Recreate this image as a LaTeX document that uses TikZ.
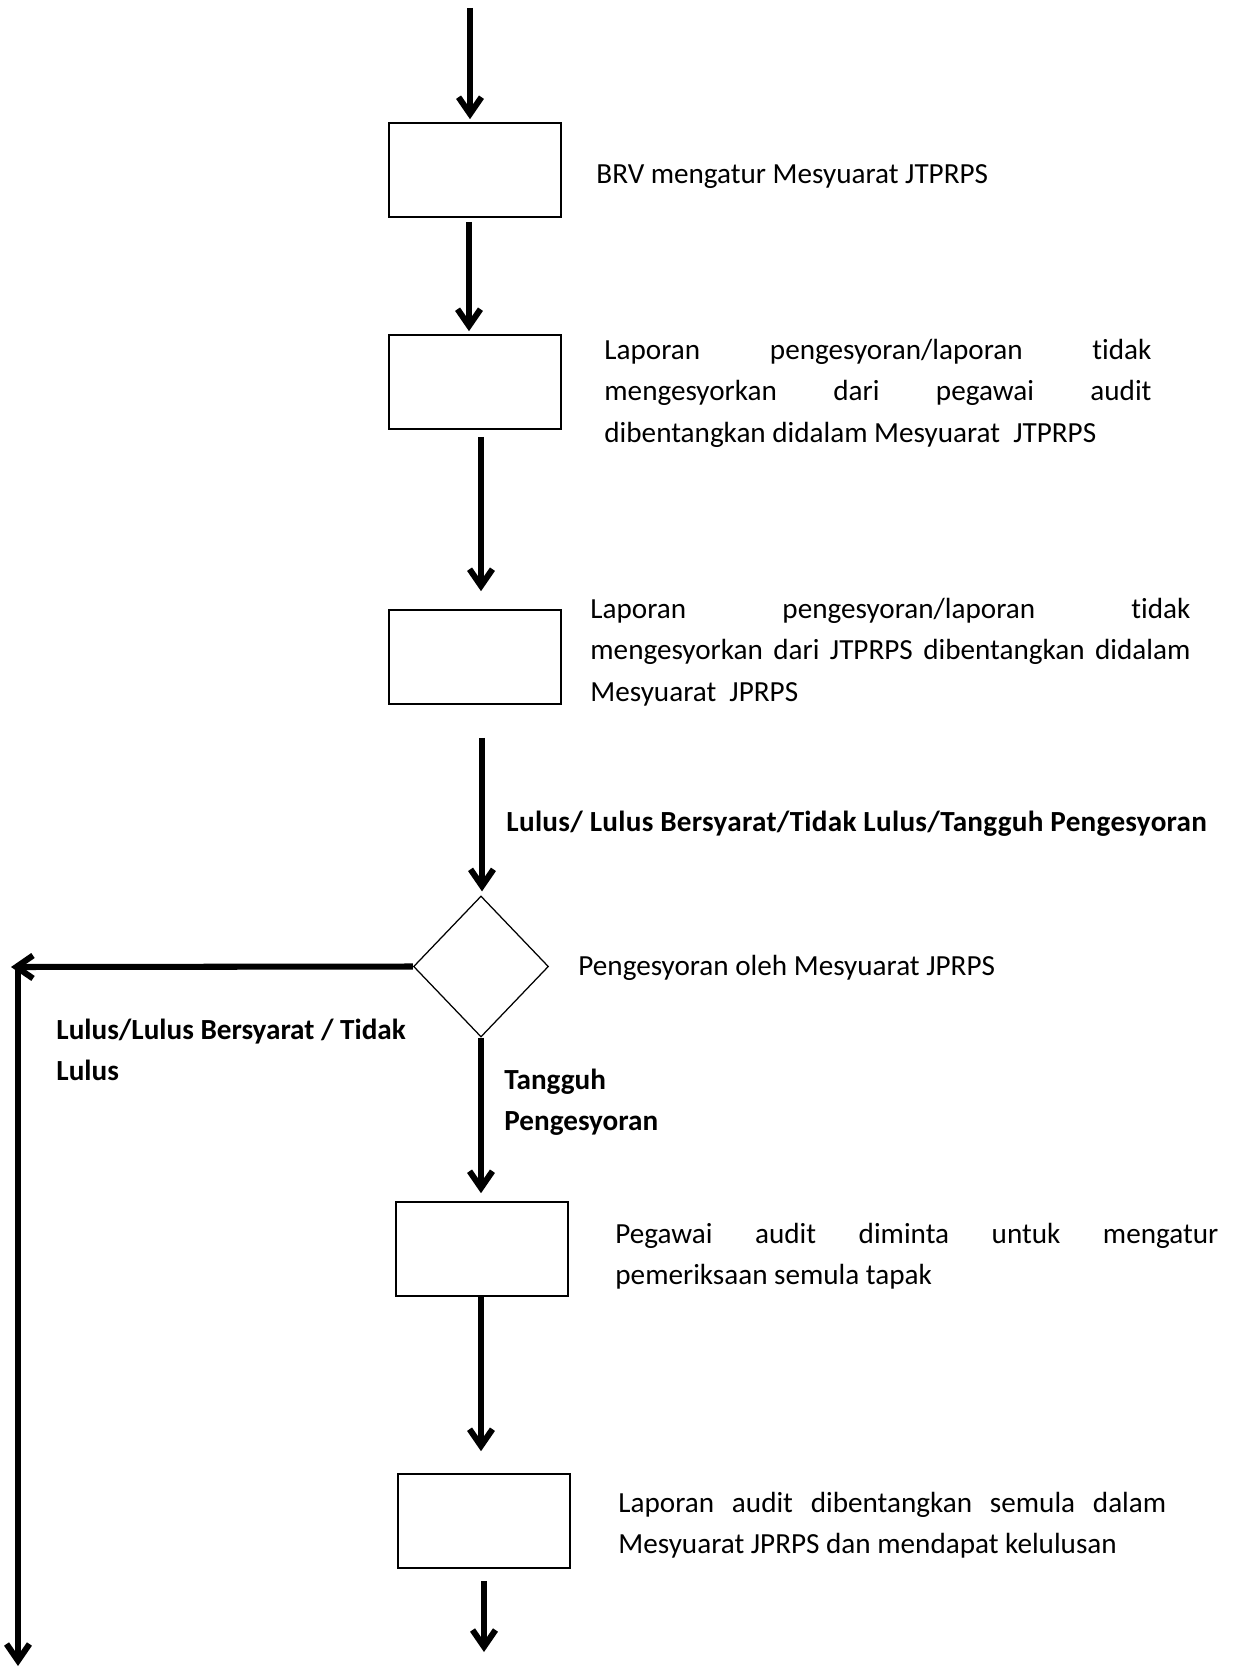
\documentclass[tikz,border=0pt]{standalone}
\usepackage{fontspec}
\setmainfont{Carlito}[Ligatures=NoCommon]
\usetikzlibrary{shapes.geometric,arrows.meta,calc}
\begin{document}
\begin{tikzpicture}[x=0.48pt,y=-0.48pt,
  every node/.style={font=\fontsize{14}{19.9}\selectfont},
  arr/.style={line width=2.9pt,-{Straight Barb[length=8pt,width=11pt]}},
  box/.style={draw,line width=0.8pt,minimum width=82.6pt,minimum height=45.1pt,inner sep=0pt},
  dec/.style={draw,diamond,line width=0.6pt,minimum width=64.8pt,minimum height=67.7pt,inner sep=0pt},
  txt/.style={inner sep=0pt,align=justify},
  lab/.style={inner sep=0pt,font=\fontsize{14}{19.9}\selectfont\bfseries,align=left}]
\useasboundingbox (0,0) rectangle (1233,1668);

\node[box] (b1) at (475,170) {};
\node[box] (b2) at (475,382) {};
\node[box] (b3) at (475,657) {};
\node[dec] (d) at (481,966.5) {};
\node[box] (b4) at (482,1249) {};
\node[box] (b5) at (484,1521) {};

\coordinate (start) at (470,8);
\coordinate (hl) at (11,967);
\coordinate (corner) at (18,964);
\coordinate (endL) at (18,1666);
\coordinate (endR) at (484,1652);

\draw[arr] (start) -- ($(b1.north)+(-5,-3)$);
\draw[arr] ($(b1.south)+(-6,4)$) -- ($(b2.north)+(-6,-3)$);
\draw[arr] ($(b2.south)+(6,7)$) -- ($(b3.north)+(6,-18)$);
\draw[arr] ($(b3.south)+(7,33)$) -- ($(d.north)+(1,-4)$);
\draw[arr] (d.south) -- ($(b4.north)+(-1,-8)$);
\draw[arr] ($(b4.south)+(-1,0)$) -- ($(b5.north)+(-3,-22)$);
\draw[arr] ($(b5.south)+(0,12)$) -- (endR);
\draw[arr] (d.west) -- (hl);
\draw[arr] (corner) -- (endL);

\node[anchor=base west,inner sep=0pt] (t1) at (596,184) {BRV mengatur Mesyuarat JTPRPS};
\node[txt,anchor=north west,text width=262.6pt] (t2) at (604,330)
  {\strut Laporan pengesyoran/laporan tidak\linebreak mengesyorkan dari pegawai audit\linebreak dibentangkan didalam Mesyuarat\ \ JTPRPS};
\node[txt,anchor=north west,text width=288pt] (t3) at (590,589)
  {\strut Laporan pengesyoran/laporan tidak\linebreak mengesyorkan dari JTPRPS dibentangkan didalam\linebreak Mesyuarat\ \ JPRPS};
\node[lab,anchor=base west] (l1) at (506,831) {\addfontfeatures{LetterSpace=1}Lulus/ Lulus Bersyarat/Tidak Lulus/Tangguh Pengesyoran};
\node[anchor=base west,inner sep=0pt] (t6) at (578,975) {Pengesyoran oleh Mesyuarat JPRPS};
\node[lab,anchor=north west] (l2) at (56,1010) {\strut Lulus/Lulus Bersyarat / Tidak\\Lulus};
\node[lab,anchor=north west] (l3) at (504,1060) {\strut Tangguh\\Pengesyoran};
\node[txt,anchor=north west,text width=289.4pt] (t4) at (615,1214)
  {\strut Pegawai audit diminta untuk mengatur\linebreak pemeriksaan semula tapak};
\node[txt,anchor=north west,text width=263pt] (t5) at (618,1483)
  {\strut Laporan audit dibentangkan semula dalam\linebreak Mesyuarat JPRPS dan mendapat kelulusan};
\end{tikzpicture}
\end{document}
